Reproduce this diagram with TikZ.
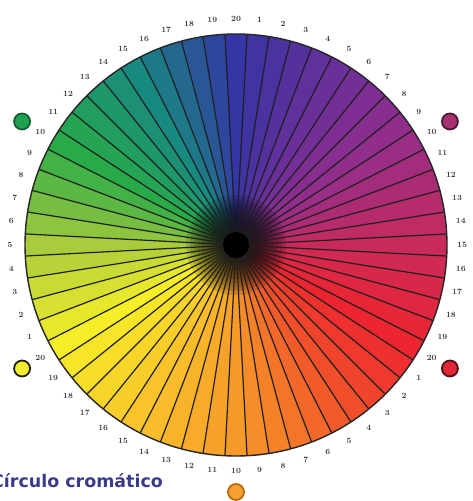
\documentclass[tikz,border=0pt]{standalone}
\usepackage{fontspec}
\usetikzlibrary{calc}
\newfontfamily\tfont{DejaVu Sans}
\definecolor{k0}{HTML}{3535A5}
\definecolor{k1}{HTML}{6B2F9A}
\definecolor{k2}{HTML}{9A2D86}
\definecolor{k3}{HTML}{C82A5A}
\definecolor{k4}{HTML}{EE2530}
\definecolor{k5}{HTML}{F25A2A}
\definecolor{k6}{HTML}{F79A28}
\definecolor{k7}{HTML}{F9C42A}
\definecolor{k8}{HTML}{F7EE28}
\definecolor{k9}{HTML}{A8CC3C}
\definecolor{k10}{HTML}{28AA48}
\definecolor{k11}{HTML}{178A80}
\definecolor{k12}{HTML}{3535A5}
\definecolor{titlec}{HTML}{3B3B8C}
\definecolor{lblc}{HTML}{404040}
\definecolor{purf}{HTML}{A83070}\definecolor{purd}{HTML}{4A1A35}
\definecolor{redf}{HTML}{E02838}\definecolor{redd}{HTML}{501018}
\definecolor{oraf}{HTML}{F5A030}\definecolor{orad}{HTML}{B86A10}
\definecolor{yelf}{HTML}{F4EC30}\definecolor{yeld}{HTML}{202010}
\definecolor{gref}{HTML}{20A050}\definecolor{gred}{HTML}{106030}
\tikzset{
  lbl/.style={text=lblc, inner sep=0pt, font=\bfseries\fontsize{8}{8}\selectfont},
  dot/.style={circle, minimum size=16bp, inner sep=0pt, line width=1.8bp},
  spoke/.style={draw=black!88, line width=1.2bp},
  rim/.style={draw=black!85, line width=1.4bp}
}
\begin{document}
\begin{tikzpicture}[x=1bp,y=1bp]
\useasboundingbox (0,0) rectangle (473,501);
\fill[white] (0,0) rectangle (473,501);
\coordinate (C) at (236,256);
\def\R{211}
% sectors
\foreach \i in {0,...,59}{
  \pgfmathtruncatemacro{\k}{floor(\i/5)}
  \pgfmathtruncatemacro{\kn}{\k+1}
  \pgfmathtruncatemacro{\p}{100-20*mod(\i,5)}
  \colorlet{sc}{k\k!\p!k\kn}
  \pgfmathsetmacro{\sa}{93-6*\i}
  \pgfmathsetmacro{\ea}{87-6*\i}
  \fill[sc] (C) -- ($(C)+(\sa:\R)$) arc[start angle=\sa, end angle=\ea, radius=\R] -- cycle;
}
% darkening toward centre
\foreach \r in {10,14,...,50}{
  \fill[black, opacity=0.14] (C) circle (\r);
}
% spokes
\foreach \i in {0,...,59}{
  \coordinate (s\i) at ($(C)+(93-6*\i:\R)$);
  \draw[spoke] (C) -- (s\i);
}
\fill[black] (C) circle (13);
\draw[rim] (C) circle (\R);
% labels
\foreach \i in {0,...,59}{
  \pgfmathtruncatemacro{\n}{mod(\i+19,20)+1}
  \node[lbl] (n\i) at ($(C)+(90-6*\i:226)$) {\n};
}
% dots
\node[dot, fill=purf, draw=purd] (d60) at ($(C)+(30:247)$) {};
\node[dot, fill=redf, draw=redd] (d120) at ($(C)+(-30:247)$) {};
\node[dot, fill=oraf, draw=orad] (d180) at ($(C)+(-90:247)$) {};
\node[dot, fill=yelf, draw=yeld] (d240) at ($(C)+(-150:247)$) {};
\node[dot, fill=gref, draw=gred] (d300) at ($(C)+(150:247)$) {};
% title
\node[anchor=base east, inner sep=0pt, text=titlec, font={\tfont\bfseries\fontsize{17.5}{18}\selectfont}] (title) at (163,13) {Círculo cromático};
\end{tikzpicture}
\end{document}
